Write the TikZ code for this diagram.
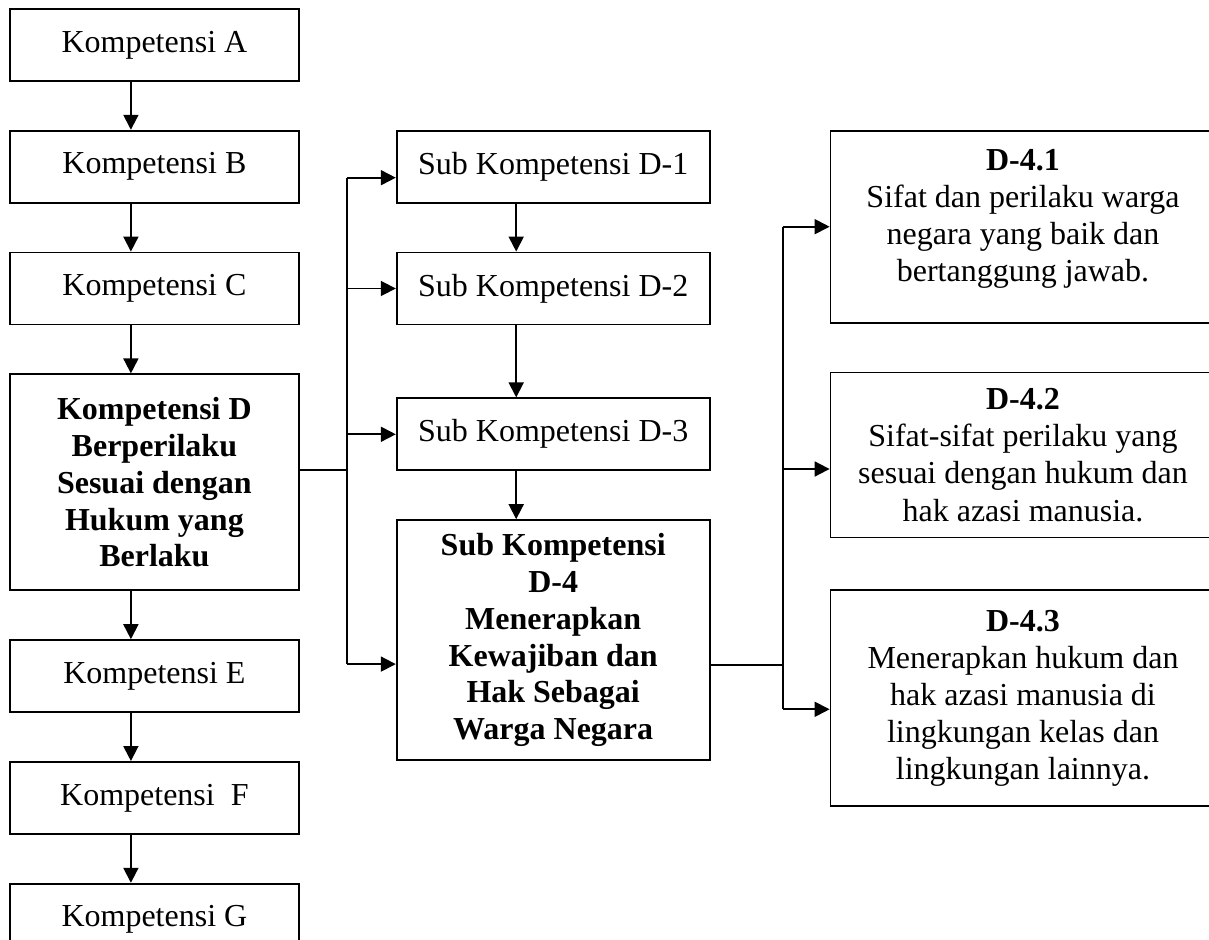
\documentclass[tikz,border=0pt]{standalone}
\usepackage{fontspec}
\setmainfont{Liberation Serif}
\usetikzlibrary{positioning,arrows.meta}

\begin{document}
\begin{tikzpicture}[
  x=1pt,y=1pt,
  line width=0.9pt,
  arr/.style={-{Triangle[length=7.5pt,width=7.5pt]}},
  kbox/.style={draw=black,minimum width=144.5pt,align=center,inner sep=2pt,font=\fontsize{16}{18.4}\selectfont},
  subbox/.style={kbox,minimum width=156.5pt},
  detbox/.style={kbox,minimum width=192.5pt,font=\fontsize{16}{18.6}\selectfont},
]
\useasboundingbox (0,0) rectangle (604.5,-470);

% --- KOMPETENSI A..G ---
\node[kbox,minimum height=36pt,anchor=north west] (kA) at (4.5,-4) {Kompetensi A};
\node[kbox,minimum height=36pt,below=24pt of kA] (kB) {Kompetensi B};
\node[kbox,minimum height=36pt,below=24pt of kB] (kC) {Kompetensi C};
\node[kbox,minimum height=108pt,below=24pt of kC] (kD)
  {\textbf{Kompetensi D}\\\textbf{Berperilaku}\\\textbf{Sesuai dengan}\\\textbf{Hukum yang}\\\textbf{Berlaku}};
\node[kbox,minimum height=36pt,below=24pt of kD] (kE) {Kompetensi E};
\node[kbox,minimum height=36pt,below=24pt of kE] (kF) {Kompetensi\ \ F};
\node[kbox,minimum height=36pt,below=24pt of kF] (kG) {Kompetensi G};

\foreach \a/\b in {kA/kB,kB/kC,kC/kD,kD/kE,kE/kF,kF/kG}
  \draw[arr] ([xshift=-11.75pt]\a.south) -- ([xshift=-11.75pt]\b.north);

% --- SUB KOMPETENSI D-1..D-4 ---
\node[subbox,minimum height=36pt,right=48pt of kB] (s1) {Sub Kompetensi D-1};
\node[subbox,minimum height=36pt,below=24pt of s1] (s2) {Sub Kompetensi D-2};
\node[subbox,minimum height=36pt,below=36pt of s2] (s3) {Sub Kompetensi D-3};
\node[subbox,minimum height=120pt,below=24pt of s3] (s4)
  {\textbf{Sub Kompetensi}\\\textbf{D-4}\\\textbf{Menerapkan}\\\textbf{Kewajiban dan}\\\textbf{Hak Sebagai}\\\textbf{Warga Negara}};

\foreach \a/\b in {s1/s2,s2/s3,s3/s4}
  \draw[arr] ([xshift=-18.5pt]\a.south) -- ([xshift=-18.5pt]\b.north);

% branch from D to the sub boxes
\coordinate (kDout) at ([yshift=6pt]kD.east);
\coordinate (busL) at ([xshift=23.5pt]kDout);
\coordinate (s1in) at ([yshift=-5.5pt]s1.west);
\coordinate (s2in) at (s2.west);
\coordinate (s3in) at (s3.west);
\coordinate (s4in) at ([yshift=-12pt]s4.west);
\draw (kDout) -- (busL);
\draw (busL |- s1in) -- (busL |- s4in);
\foreach \t in {s1in,s2in,s3in,s4in}
  \draw[arr] (busL |- \t) -- (\t);

% --- D-4.1..D-4.3 ---
\node[detbox,minimum height=96pt,right=59.5pt of s1.north east,anchor=north west] (d1)
  {\textbf{D-4.1}\\Sifat dan perilaku warga\\negara yang baik dan\\bertanggung jawab.\\[-7.5pt]};
\node[detbox,minimum height=82.5pt,below=24pt of d1] (d2)
  {\textbf{D-4.2}\\Sifat-sifat perilaku yang\\sesuai dengan hukum dan\\hak azasi manusia.};
\node[detbox,minimum height=108pt,below=25.5pt of d2] (d3)
  {\textbf{D-4.3}\\Menerapkan hukum dan\\hak azasi manusia di\\lingkungan kelas dan\\lingkungan lainnya.};

% branch from D-4 to the detail boxes
\coordinate (s4out) at ([yshift=-12.5pt]s4.east);
\coordinate (busR) at ([xshift=36pt]s4out);
\coordinate (d1in) at (d1.west);
\coordinate (d2in) at ([yshift=-7pt]d2.west);
\coordinate (d3in) at ([yshift=-5.5pt]d3.west);
\draw (s4out) -- (busR);
\draw (busR |- d1in) -- (busR |- d3in);
\foreach \t in {d1in,d2in,d3in}
  \draw[arr] (busR |- \t) -- (\t);

\end{tikzpicture}
\end{document}
